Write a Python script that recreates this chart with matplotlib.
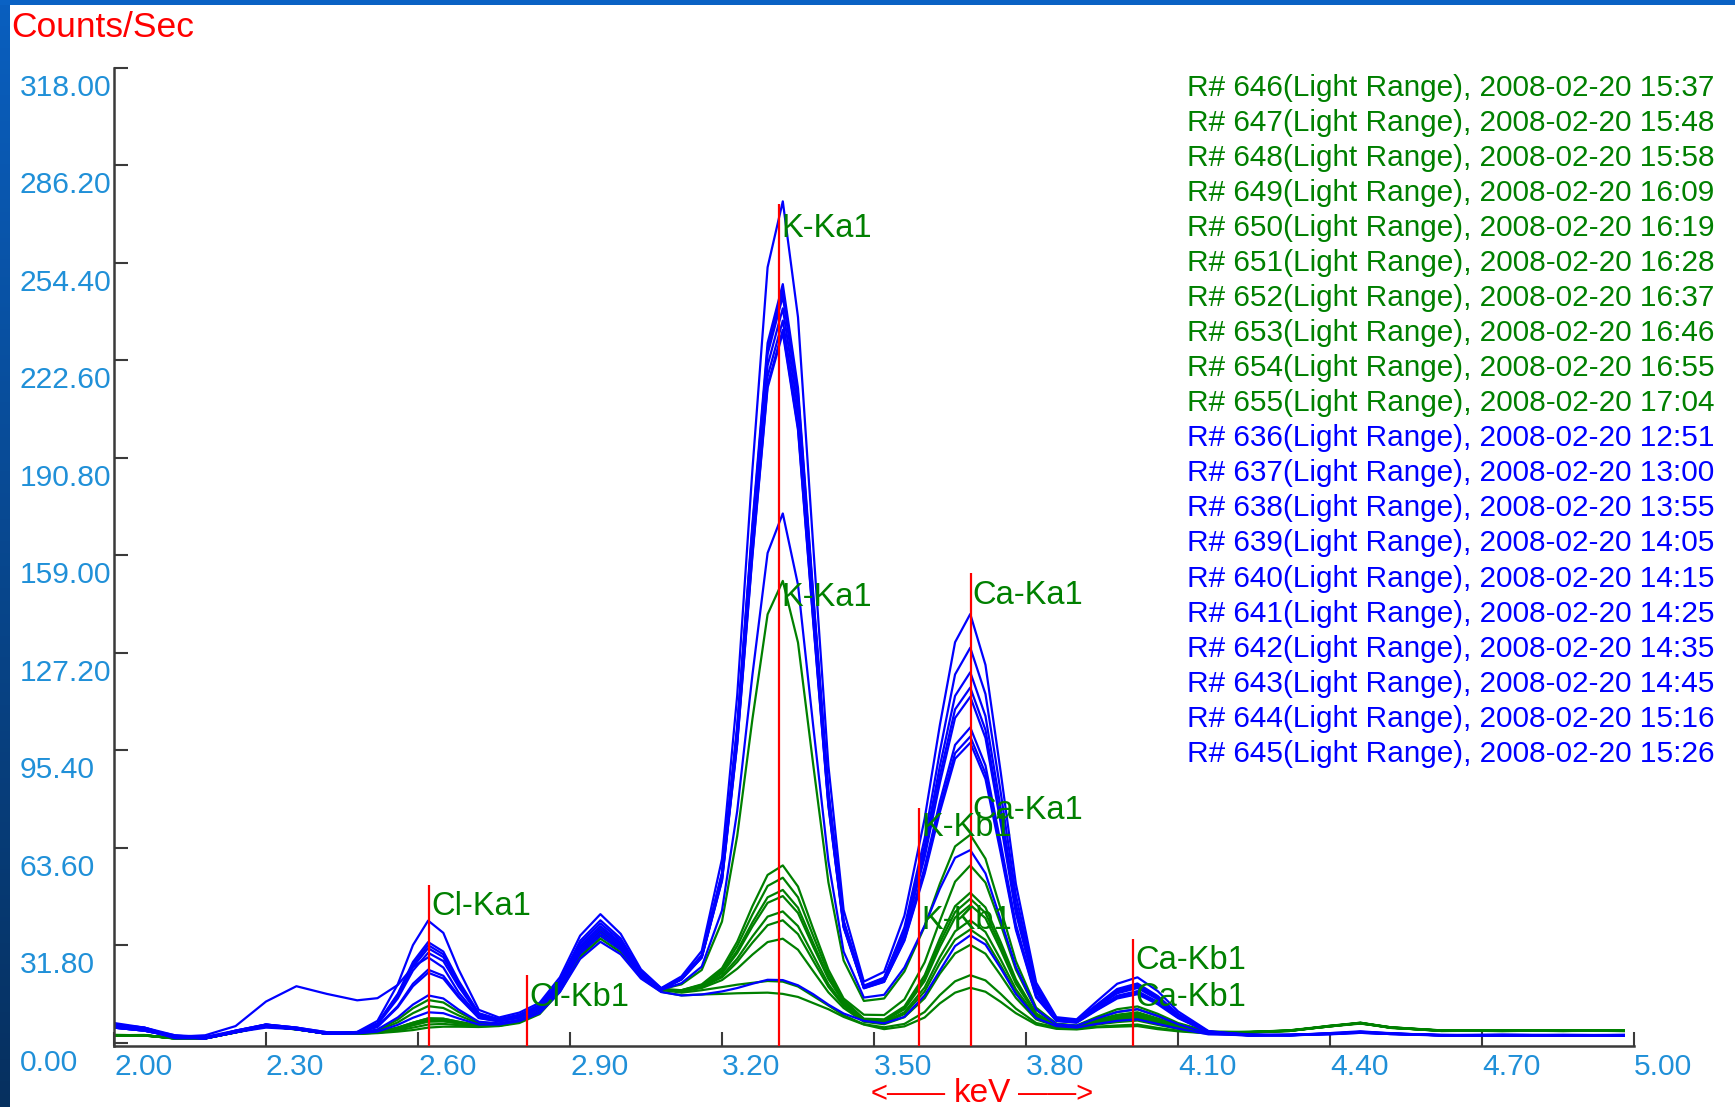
import matplotlib
matplotlib.use("Agg")
import matplotlib.pyplot as plt
import numpy as np
from matplotlib import transforms

plt.rcParams['font.family'] = ['Liberation Sans', 'DejaVu Sans']

# Energy grid (keV) shared by all spectra
kev = [2.00, 2.06, 2.12, 2.18, 2.24, 2.30, 2.36, 2.42,
       2.48, 2.52, 2.56, 2.59, 2.62, 2.65, 2.68, 2.72,
       2.76, 2.80, 2.84, 2.88, 2.92, 2.96, 3.00, 3.04,
       3.08, 3.12, 3.16, 3.20, 3.23, 3.26, 3.29, 3.32,
       3.35, 3.38, 3.41, 3.44, 3.48, 3.52, 3.56, 3.60,
       3.63, 3.66, 3.69, 3.72, 3.75, 3.78, 3.82, 3.86,
       3.90, 3.94, 3.98, 4.02, 4.06, 4.10, 4.16, 4.24,
       4.32, 4.40, 4.46, 4.52, 4.62, 4.74, 4.86, 4.98]

# Green runs (646-655), counts/sec
r646 = [2.5, 2.5, 1.5, 1.5, 3.5, 5.5, 4.5, 3, 3.2, 4.2, 7.6, 11.3, 14, 13.2, 10.1, 6.7,
        6.3, 7.5, 10.5, 18.3, 30.6, 37, 31.9, 22.3, 17.5, 19.1, 23.8, 39.6, 67.5, 105.6, 139.8, 150.7,
        130.6, 90.8, 52.4, 26.9, 13.7, 14.5, 23.3, 38, 51.9, 64.1, 67.9, 60.1, 43.7, 26.7, 11.5, 6.3,
        5.7, 8.5, 11, 11.9, 9.5, 6.5, 3.7, 3.5, 4, 5.5, 6.5, 5, 4, 4, 4, 4]
r647 = [2.5, 2.4, 1.5, 1.6, 3.6, 5.4, 4.4, 3, 3.1, 4, 6.7, 9.7, 12, 11.4, 9, 6.3,
        6.1, 7.3, 10.4, 18.3, 30.6, 37, 31.9, 22.3, 17.5, 17.2, 19.1, 24.4, 33, 44.6, 54.8, 57.9,
        51, 37.2, 23.9, 14.5, 9.2, 9.1, 14.2, 26.3, 39.8, 52.6, 57.9, 52.3, 38.7, 23.9, 10.7, 6.1,
        5.6, 8, 10.1, 11, 8.8, 6.1, 3.6, 3.6, 4.1, 5.4, 6.6, 5.1, 4.1, 3.9, 4.0, 4.1]
r648 = [2.6, 2.5, 1.4, 1.5, 3.4, 5.6, 4.5, 3.1, 3.1, 3.5, 5, 6.6, 8, 7.9, 6.9, 5.7,
        5.8, 7, 10.1, 18.1, 30.5, 37, 31.9, 22.3, 17.5, 17.2, 18.9, 23.7, 31.6, 41.9, 51.2, 53.9,
        47.5, 34.9, 22.7, 14, 7.9, 7.7, 11.9, 22.1, 34.1, 44.6, 49, 44.2, 32.9, 20.7, 9.6, 5.9,
        5.4, 7.5, 9.2, 10, 8, 5.7, 3.5, 3.4, 3.9, 5.6, 6.4, 4.9, 4.0, 4.1, 3.9, 4.0]
r649 = [2.4, 2.5, 1.5, 1.4, 3.5, 5.5, 4.6, 3, 3.1, 3.5, 5, 6.6, 8, 7.9, 6.9, 5.7,
        5.8, 6.9, 10, 17.7, 29.7, 36, 31.1, 22, 17.4, 17.1, 18.7, 23.1, 30.1, 39.3, 47.5, 49.9,
        44.1, 32.6, 21.5, 13.5, 7.7, 7.3, 11.3, 21.1, 32.7, 42.7, 47, 42.4, 31.6, 20, 9.4, 5.7,
        5.3, 7.2, 8.8, 9.5, 7.6, 5.4, 3.5, 3.5, 4.0, 5.5, 6.5, 5.0, 3.9, 4.0, 4.1, 3.9]
r650 = [2.5, 2.6, 1.5, 1.5, 3.5, 5.4, 4.5, 3, 3.1, 3.5, 4.8, 6.2, 7.5, 7.5, 6.6, 5.6,
        5.8, 6.9, 10, 17.7, 29.7, 36, 31.1, 22, 17.4, 17, 18.6, 22.7, 29.3, 38, 45.7, 47.9,
        42.4, 31.4, 20.9, 13.3, 7.7, 7.1, 11, 20.2, 31.3, 40.9, 45, 40.7, 30.4, 19.3, 9.2, 5.7,
        5.2, 6.9, 8.3, 9, 7.2, 5.2, 3.4, 3.6, 3.9, 5.4, 6.3, 5.1, 4.0, 3.9, 4.0, 4.0]
r651 = [2.5, 2.4, 1.6, 1.5, 3.6, 5.6, 4.4, 3.1, 3.1, 3.5, 4.8, 6.2, 7.5, 7.5, 6.6, 5.6,
        5.8, 7, 10.4, 18.3, 30.6, 37, 31.9, 22.3, 17.5, 16.9, 18.4, 21.9, 27.5, 34.7, 41.2, 42.9,
        38.1, 28.6, 19.2, 12.6, 7.3, 6.8, 10, 18.1, 28, 36.4, 40, 36.2, 27.2, 17.5, 8.6, 5.6,
        5, 6.7, 7.9, 8.5, 6.9, 5, 3.4, 3.5, 4.1, 5.6, 6.6, 4.9, 4.1, 4.0, 3.9, 4.1]
r652 = [2.6, 2.5, 1.5, 1.6, 3.5, 5.5, 4.5, 3, 3, 3.4, 4.5, 5.8, 7, 7.1, 6.4, 5.6,
        5.7, 6.9, 10, 17.7, 29.7, 36, 31.1, 22, 17.4, 16.9, 18.2, 21.4, 26.4, 32.7, 38.4, 40,
        35.5, 26.8, 18.3, 12.1, 7.1, 6.6, 9.4, 16.8, 26, 33.7, 37, 33.6, 25.3, 16.4, 8.2, 5.5,
        4.9, 6.4, 7.5, 8, 6.5, 4.8, 3.3, 3.4, 4.0, 5.5, 6.4, 5.0, 3.9, 4.1, 4.0, 3.9]
r653 = [2.4, 2.5, 1.5, 1.5, 3.4, 5.4, 4.6, 3, 3, 3.4, 4.5, 5.8, 7, 7.1, 6.4, 5.6,
        5.7, 6.8, 9.9, 17.3, 28.9, 35, 30.4, 21.7, 17.3, 16.8, 17.9, 20.5, 24.2, 28.8, 32.9, 34,
        30.4, 23.4, 16.5, 11.4, 6.9, 6.1, 8.4, 14.6, 22.6, 29.2, 32, 29.1, 22.1, 14.7, 7.7, 5.4,
        4.8, 6, 6.8, 7.3, 5.9, 4.6, 3.3, 3.6, 4.0, 5.4, 6.5, 5.1, 4.0, 3.9, 4.1, 4.0]
r654 = [2.5, 2.5, 1.5, 1.5, 3.5, 5.5, 4.5, 3, 3, 3.3, 4.1, 5, 6, 6.2, 5.8, 5.4,
        5.6, 6.8, 9.9, 17.3, 28.9, 35, 30.4, 21.7, 17.3, 16.4, 17.2, 18.2, 19, 19.6, 20.2, 20,
        18.4, 15.3, 12.2, 9, 6.1, 5.1, 6.2, 10.1, 15.6, 20.1, 22.1, 20.4, 16, 11.2, 6.5, 5.1,
        4.7, 5.3, 5.7, 6, 4.9, 4, 3.2, 3.5, 3.9, 5.5, 6.4, 5.0, 4.0, 4.0, 3.9, 4.1]
r655 = [2.5, 2.4, 1.5, 1.5, 3.5, 5.5, 4.5, 3, 3, 3.2, 3.7, 4.2, 5, 5.3, 5.3, 5.2,
        5.5, 6.5, 9.4, 16.7, 28.1, 34, 29.6, 21.3, 16.7, 15.5, 15.8, 16, 16.2, 16.3, 16.4, 16,
        15, 13, 11, 8.5, 6, 4.5, 5.4, 8.3, 12.9, 16.4, 18, 16.7, 13.4, 9.7, 6, 4.6,
        4.4, 5.1, 5.3, 5.5, 4.5, 3.8, 3.1, 3.4, 4.0, 5.4, 6.5, 5.0, 4.0, 3.9, 4.0, 3.9]

# Blue runs (636-645), counts/sec
r636 = [6, 5, 2, 1.5, 4, 6, 5, 3, 3.6, 7.2, 19.1, 31.9, 39.9, 35.9, 24, 10.8,
        8.3, 9.9, 13.1, 21.4, 35, 42, 35.6, 24, 17.9, 21.7, 30, 60, 113.3, 186.9, 253, 274.5,
        236.7, 162.2, 90.4, 43.4, 20, 23.2, 41.5, 73.2, 103.7, 130.7, 139.9, 123.3, 88.4, 51.9, 19.7, 8.4,
        7.7, 13.6, 19.3, 21.4, 16.9, 10.3, 3.9, 2.5, 2.5, 3, 3.5, 3, 2.5, 2.5, 2.5, 2.5]
r637 = [5, 4.5, 2, 1.5, 3.5, 5.5, 4.5, 3, 3.5, 6.4, 16, 26.4, 32.9, 29.8, 20.3, 9.7,
        7.7, 9.2, 12.4, 20.4, 33.3, 40, 34.1, 23.3, 17.8, 21.1, 28.6, 55.5, 103.3, 169.2, 228.3, 247.5,
        213.6, 146.6, 82.2, 39.9, 18.7, 21.3, 37.7, 66.8, 95.1, 120.2, 128.9, 113.8, 81.8, 48.2, 18.5, 8,
        7.4, 12.5, 17.6, 19.4, 15.3, 9.5, 3.7, 2.8, 2.6, 3.2, 3.8, 3.1, 2.6, 2.7, 2.6, 2.6]
r638 = [6.5, 5, 2.5, 1.5, 4, 6, 5, 3.5, 3.5, 6.3, 15.6, 25.6, 31.9, 28.9, 19.7, 9.5,
        7.7, 9.1, 12.2, 19.9, 32.5, 39, 33.4, 23, 17.7, 21.1, 28.5, 55.2, 102.6, 167.9, 226.5, 245.5,
        211.9, 145.5, 81.6, 39.6, 18.5, 21.1, 36.9, 64.2, 90.3, 113.2, 120.9, 106.6, 76.6, 45.3, 17.5, 7.8,
        7.2, 12.2, 17.1, 18.9, 14.9, 9.3, 3.7, 2.4, 2.7, 3.0, 3.6, 3.2, 2.4, 2.6, 2.5, 2.4]
r639 = [5, 4, 2, 1.5, 3.5, 5.5, 4.5, 3, 3.4, 6.2, 15.1, 24.8, 30.9, 28, 19.2, 9.3,
        7.6, 9, 12, 19.5, 31.6, 38, 32.6, 22.7, 17.6, 21, 28.4, 54.9, 101.9, 166.6, 224.7, 243.5,
        210.2, 144.3, 80.9, 39.4, 18.5, 21, 36.4, 62.5, 87.2, 108.8, 115.9, 102.1, 73.4, 43.4, 16.9, 7.7,
        7.1, 12, 16.7, 18.4, 14.6, 9.1, 3.7, 2.6, 2.5, 3.1, 3.4, 2.9, 2.6, 2.4, 2.6, 2.5]
r640 = [5.5, 4.5, 1.5, 1.5, 3.5, 6, 4.5, 3, 3.4, 6, 14.5, 23.6, 29.4, 26.7, 18.4, 9.1,
        7.5, 8.8, 11.9, 19.4, 31.6, 38, 32.6, 22.7, 17.6, 20.9, 28.2, 54.2, 100.4, 163.9, 221, 239.6,
        206.7, 142, 79.7, 38.7, 18.1, 20.4, 35.2, 60.6, 84.8, 106, 112.9, 99.5, 71.7, 42.4, 16.6, 7.6,
        7, 11.7, 16.2, 17.9, 14.2, 8.9, 3.6, 2.5, 2.7, 2.9, 3.5, 3.0, 2.5, 2.5, 2.4, 2.6]
r641 = [6, 5, 2, 2.5, 5.5, 13.5, 18.5, 16, 13.9, 14.6, 18.9, 24.8, 27.9, 24.6, 16.5, 8.6,
        7.3, 8.5, 11.5, 18.9, 30.8, 37, 31.9, 22.3, 17.5, 20.8, 28, 53.6, 98.9, 161.3, 217.4, 235.6,
        203.3, 139.7, 78.5, 38.2, 18, 20.2, 34.1, 57.3, 78.7, 97.2, 102.9, 90.5, 65.2, 38.7, 15.4, 7.3,
        6.8, 11.2, 15.4, 16.9, 13.4, 8.5, 3.5, 2.6, 2.4, 3.0, 3.6, 3.1, 2.5, 2.6, 2.5, 2.4]
r642 = [5, 4, 2, 1.5, 3.5, 5.5, 4.5, 3, 3.3, 5.4, 12, 19.3, 23.9, 21.9, 15.4, 8.2,
        7.1, 8.3, 11.2, 18.4, 30, 36, 31.1, 22, 17.4, 20.7, 27.9, 53.1, 97.8, 159.4, 214.6, 232.6,
        200.8, 138, 77.6, 37.9, 17.9, 20, 33.6, 56, 76.7, 94.5, 99.9, 87.9, 63.3, 37.6, 15.1, 7.2,
        6.7, 10.9, 14.9, 16.4, 13, 8.3, 3.5, 2.5, 2.6, 2.8, 3.3, 2.9, 2.4, 2.5, 2.6, 2.5]
r643 = [6, 4.5, 2.5, 2, 4, 6, 5, 3.5, 3.3, 5.2, 11.6, 18.5, 22.9, 21, 14.9, 8.1,
        7, 8.2, 11.2, 18.3, 29.9, 36, 31.1, 22, 17.4, 20.7, 27.8, 52.9, 97.4, 158.7, 213.7, 231.6,
        199.9, 137.4, 77.3, 37.7, 17.8, 19.9, 33.3, 55.2, 75.3, 92.7, 97.9, 86.1, 62, 36.9, 14.8, 7.2,
        6.6, 10.7, 14.5, 15.9, 12.6, 8.1, 3.5, 2.7, 2.5, 3.2, 3.5, 3.0, 2.6, 2.4, 2.5, 2.6]
r644 = [5, 4, 2, 1.5, 3.5, 5.5, 4.5, 3, 3.2, 4.4, 8.3, 12.5, 15.5, 14.5, 10.9, 6.9,
        6.4, 7.5, 10.4, 17.6, 29.1, 35, 30.4, 21.7, 17.3, 19.5, 24.9, 43.2, 75.6, 120, 159.8, 172.7,
        149.4, 103.4, 59.2, 29.8, 14.8, 15.7, 24.6, 38.3, 50.3, 60.4, 62.9, 55.3, 40.2, 24.8, 10.9, 6.1,
        5.6, 8, 10.1, 11, 8.8, 6.1, 3.1, 2.4, 2.6, 3.0, 3.4, 3.0, 2.5, 2.5, 2.4, 2.5]
r645 = [5, 4, 2, 1.5, 3.5, 5, 4.5, 3, 3.1, 3.7, 5.9, 8.2, 10, 9.7, 8, 6,
        6, 7.1, 9.7, 16.6, 27.4, 33, 28.9, 21, 16.6, 15.5, 15.8, 16.8, 17.9, 19.3, 20.6, 20.5,
        18.8, 15.9, 12.5, 9.6, 7.2, 6.4, 8.5, 15.5, 23.6, 31.6, 35.1, 32.1, 24.4, 16, 8.1, 5.5,
        5, 6.2, 7.2, 7.7, 6.2, 4.7, 2.8, 2.5, 2.5, 2.9, 3.3, 2.9, 2.5, 2.6, 2.5, 2.4]

green_runs = [r646, r647, r648, r649, r650, r651, r652, r653, r654, r655]
blue_runs = [r636, r637, r638, r639, r640, r641, r642, r643, r644, r645]

green_names = ["R# 646(Light Range), 2008-02-20 15:37", "R# 647(Light Range), 2008-02-20 15:48",
               "R# 648(Light Range), 2008-02-20 15:58", "R# 649(Light Range), 2008-02-20 16:09",
               "R# 650(Light Range), 2008-02-20 16:19", "R# 651(Light Range), 2008-02-20 16:28",
               "R# 652(Light Range), 2008-02-20 16:37", "R# 653(Light Range), 2008-02-20 16:46",
               "R# 654(Light Range), 2008-02-20 16:55", "R# 655(Light Range), 2008-02-20 17:04"]
blue_names = ["R# 636(Light Range), 2008-02-20 12:51", "R# 637(Light Range), 2008-02-20 13:00",
              "R# 638(Light Range), 2008-02-20 13:55", "R# 639(Light Range), 2008-02-20 14:05",
              "R# 640(Light Range), 2008-02-20 14:15", "R# 641(Light Range), 2008-02-20 14:25",
              "R# 642(Light Range), 2008-02-20 14:35", "R# 643(Light Range), 2008-02-20 14:45",
              "R# 644(Light Range), 2008-02-20 15:16", "R# 645(Light Range), 2008-02-20 15:26"]

# Element lines: name, energy, marker height, label heights (two spectrum sets)
line_names = ["Cl-Ka1", "Cl-Kb1", "K-Ka1", "K-Kb1", "Ca-Ka1", "Ca-Kb1"]
line_kev = [2.622, 2.815, 3.313, 3.589, 3.691, 4.012]
line_top = [51.6, 22.0, 273.6, 76.5, 153.4, 34.0]
label_y1 = [41.6, 12.0, 262.8, 67.4, 143.2, 24.1]
label_y2 = [None, None, 142.5, 37.2, 73.2, 12.0]

x_ticks = [2.0, 2.3, 2.6, 2.9, 3.2, 3.5, 3.8, 4.1, 4.4, 4.7, 5.0]
y_ticks = [0, 31.8, 63.6, 95.4, 127.2, 159.0, 190.8, 222.6, 254.4, 286.2, 318.0]

W, H = 1735, 1107
fig = plt.figure(figsize=(W / 100, H / 100), dpi=100)
fig.patch.set_facecolor('white')

# Blue frame of the window (left strip with gradient, top strip)
side = fig.add_axes([0, 0, 9 / W, 1])
grad = np.linspace(0, 1, 256).reshape(-1, 1)
side.imshow(grad, aspect='auto', cmap=matplotlib.colors.LinearSegmentedColormap.from_list(
    'frame', ['#0a5fbf', '#06305f']), extent=[0, 1, 0, 1])
side.axis('off')
top = fig.add_axes([0, 1 - 5 / H, 1, 5 / H])
top.set_facecolor('#0a62c4')
top.set_xticks([])
top.set_yticks([])
for s in top.spines.values():
    s.set_visible(False)

ax = fig.add_axes([114 / W, 1 - 1046 / H, 1520 / W, 978 / H])
ax.set_xlim(2.0, 5.0)
ax.set_ylim(-1, 318)

# Spectra: green runs first, blue on top
for run in green_runs:
    ax.plot(kev, run, color='#008000', lw=1.6, solid_joinstyle='round')
for run in blue_runs:
    ax.plot(kev, run, color='#0000ff', lw=1.6, solid_joinstyle='round')

# Element marker lines and labels
for name, e, t, y1, y2 in zip(line_names, line_kev, line_top, label_y1, label_y2):
    ax.vlines(e, -1, t, color='#ff0000', lw=1.6, zorder=5)
    ax.text(e + 0.004, y1, name, color='#008000', fontsize=23.5, va='baseline', ha='left', zorder=6)
    if y2 is not None:
        ax.text(e + 0.004, y2, name, color='#008000', fontsize=23.5, va='baseline', ha='left', zorder=6)

# Axes look
for s in ['top', 'right']:
    ax.spines[s].set_visible(False)
for s in ['left', 'bottom']:
    ax.spines[s].set_color('#3a3a3a')
    ax.spines[s].set_linewidth(1.8)
ax.set_xticks(x_ticks)
ax.set_yticks(y_ticks)
ax.set_xticklabels([])
ax.set_yticklabels([])
ax.tick_params(direction='in', length=10, width=1.5, colors='#3a3a3a')

# Tick labels (left aligned, below the tick like the original)
ylab_tr = transforms.offset_copy(transforms.blended_transform_factory(ax.transAxes, ax.transData),
                                 fig=fig, x=0, y=-28, units='dots')
for v in y_ticks:
    ax.text((20 - 114) / 1520, v, f"{v:.2f}", transform=ylab_tr, color='#2090d8',
            fontsize=21.6, ha='left', va='baseline', clip_on=False)
xlab_tr = transforms.offset_copy(transforms.blended_transform_factory(ax.transData, ax.transAxes),
                                 fig=fig, x=0, y=-29, units='dots')
for v in x_ticks:
    ax.text(v, 0, f"{v:.2f}", transform=xlab_tr, color='#2090d8',
            fontsize=21.6, ha='left', va='baseline', clip_on=False)

# Titles
fig.text(11 / W, 1 - 37 / H, "Counts/Sec", color='#ff0000', fontsize=25.5, ha='left', va='baseline')
fig.text(946 / W, 1 - 1102 / H, "<——", color='#ff0000', fontsize=21, ha='right', va='baseline')
fig.text(982 / W, 1 - 1102 / H, "keV", color='#ff0000', fontsize=24, ha='center', va='baseline')
fig.text(1018 / W, 1 - 1102 / H, "——>", color='#ff0000', fontsize=21, ha='left', va='baseline')

# Run list on the right
for i, name in enumerate(green_names + blue_names):
    col = '#008000' if i < len(green_names) else '#0000ff'
    fig.text(1187 / W, 1 - (95.7 + i * 35.06) / H, name, color=col, fontsize=21.4,
             ha='left', va='baseline')

fig.savefig('out.png', dpi=100)
